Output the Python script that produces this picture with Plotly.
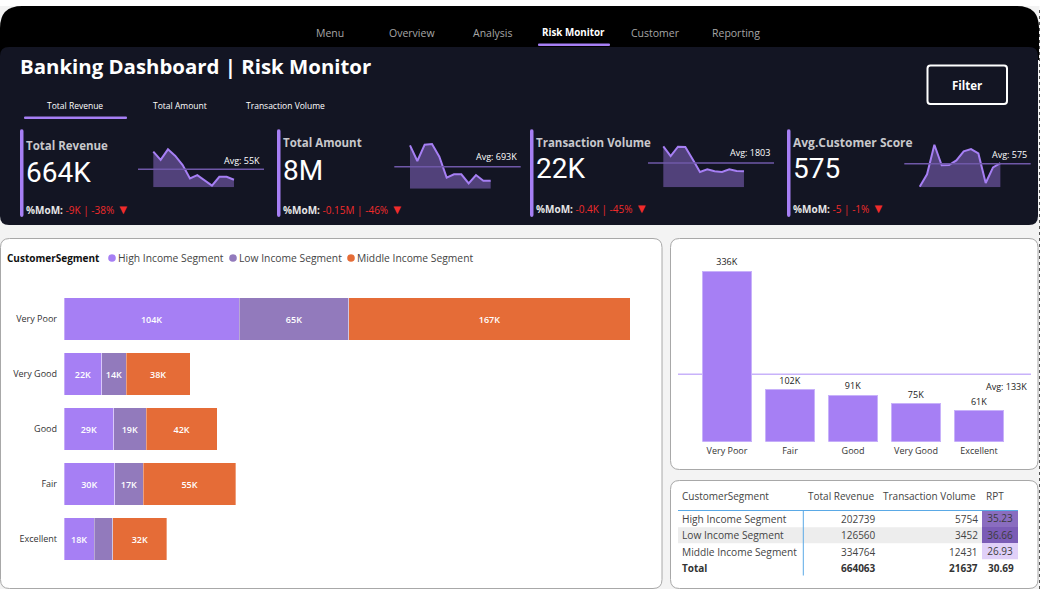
import plotly.graph_objects as go

W, H = 1041, 589
FONT = "Open Sans"
PURPLE = "#A67FF4"
LOW = "#927ABC"
ORANGE = "#E56C37"
DARK = "#131523"

# stacked bars
segments = ["Very Poor", "Very Good", "Good", "Fair", "Excellent"]
high_income = [104, 22.4, 29.4, 30, 18]
low_income = [65, 14.4, 19.3, 17, 11]
middle_income = [167, 38.2, 42.3, 55, 32]
low_labels = ["65K", "14K", "19K", "17K", ""]

# column chart
score_names = ["Very Poor", "Fair", "Good", "Very Good", "Excellent"]
score_values = [336, 102, 91, 75, 61]
score_avg = 133

# sparklines, 12 months each
spark_revenue = [109, 84, 116, 96, 68, 27, 37, 20, 5, 32, 32, 23]
spark_amount = [1365, 872, 1386, 1407, 1008, 347, 452, 452, 168, 431, 252, 252]
spark_volume = [3038, 2322, 3013, 2989, 2075, 1136, 1334, 1186, 1136, 1334, 1210, 1186]
spark_score = [16, 316, 1037, 535, 543, 656, 875, 932, 826, 105, 486, 591]

# table
table_header = ["CustomerSegment", "Total Revenue", "Transaction Volume", "RPT"]
table_names = ["High Income Segment", "Low Income Segment", "Middle Income Segment"]
table_revenue = [202739, 126560, 334764]
table_volume = [5754, 3452, 12431]
table_rpt = [35.23, 36.66, 26.93]
table_total = ["Total", 664063, 21637, 30.69]

nav_items = ["Menu", "Overview", "Analysis", "Risk Monitor", "Customer", "Reporting"]
nav_x = [330, 412, 492, 573, 655, 736]


def fx(x):
    return x / W


def fy(y):
    return 1 - y / H


def round_rect(x0, y0, x1, y1, r, fill, line=None, width=1, top_only=False):
    a, b, c, d = fx(x0), fy(y0), fx(x1), fy(y1)
    rx, ry = r / W, r / H
    if top_only:
        path = (f"M{a},{d} L{a},{b - ry} Q{a},{b} {a + rx},{b} L{c - rx},{b} "
                f"Q{c},{b} {c},{b - ry} L{c},{d} Z")
    else:
        path = (f"M{a},{d + ry} L{a},{b - ry} Q{a},{b} {a + rx},{b} L{c - rx},{b} "
                f"Q{c},{b} {c},{b - ry} L{c},{d + ry} Q{c},{d} {c - rx},{d} "
                f"L{a + rx},{d} Q{a},{d} {a},{d + ry} Z")
    fig.add_shape(type="path", path=path, xref="paper", yref="paper", layer="below",
                  fillcolor=fill, line=dict(color=line or fill, width=width if line else 0))


def rect(x0, y0, x1, y1, fill):
    fig.add_shape(type="rect", xref="paper", yref="paper", layer="below",
                  x0=fx(x0), x1=fx(x1), y0=fy(y0), y1=fy(y1),
                  fillcolor=fill, line_width=0)


def label(x, y, text, size=10, color="#444444", anchor="left", family=FONT):
    # annotations keep about 1px of padding around the text
    x = x - 1 if anchor == "left" else x + 1 if anchor == "right" else x
    fig.add_annotation(x=fx(x), y=fy(y), xref="paper", yref="paper", text=text,
                       showarrow=False, xanchor=anchor, yanchor="middle", borderpad=0,
                       font=dict(family=family, size=size, color=color))


fig = go.Figure()

# page
rect(0, 0, W, H, "#F3F3F3")
rect(0, 0, W, 6, "#FFFFFF")
rect(1039.5, 0, W, H, "#FFFFFF")
round_rect(0, 6, 1039, 60, 22, "#000000", top_only=True)
round_rect(0, 47, 1038, 225, 9, DARK)
round_rect(0.5, 238.5, 662, 588.5, 9, "#FFFFFF", "#A8A8A8")
round_rect(670.5, 238.5, 1038, 469.5, 9, "#FFFFFF", "#A8A8A8")
round_rect(670.5, 480.5, 1038, 588.5, 9, "#FFFFFF", "#A8A8A8")
fig.add_shape(type="line", xref="paper", yref="paper", x0=fx(1039.5), x1=fx(1039.5),
              y0=fy(10), y1=0, line=dict(color="#555555", width=1, dash="dot"))

# nav
for name, x in zip(nav_items, nav_x):
    if name == "Risk Monitor":
        label(x, 33, "<b>" + name + "</b>", 9.8, "#FFFFFF", "center")
    else:
        label(x, 33, name, 10.5, "#A6A6A6", "center")
round_rect(538, 43.5, 610, 46, 1, PURPLE)

# header
label(20, 66, "<b>Banking Dashboard | Risk Monitor</b>", 20.4, "#FFFFFF")
label(75, 105, "Total Revenue", 8.5, "#FFFFFF", "center")
label(180, 105, "Total Amount", 8.5, "#FFFFFF", "center")
label(285, 105, "Transaction Volume", 8.5, "#FFFFFF", "center")
round_rect(24, 116.5, 127, 119, 1, PURPLE)
round_rect(927.5, 65.5, 1007, 104, 3, DARK, "#FFFFFF", 2)
label(967, 85, "<b>Filter</b>", 11.5, "#FFFFFF", "center")

# kpi cards: title, value, change and sparkline placement
cards = [
    dict(bar=20, tx=26, ty=145, vy=172, my=209, tsize=11.5, title="Total Revenue", value="664K",
         mom="-9K | -38%", data=spark_revenue, avg=55, avg_text="Avg: 55K",
         first=153.3, x0=138, x1=264, base=187.3, avg_y=169.3, ax=260, ay=160),
    dict(bar=277, tx=283, ty=143, vy=171, my=209, tsize=11.5, title="Total Amount", value="8M",
         mom="-0.15M | -46%", data=spark_amount, avg=693, avg_text="Avg: 693K",
         first=410, x0=394.3, x1=520.7, base=188.7, avg_y=166.7, ax=517, ay=157),
    dict(bar=530, tx=536, ty=142, vy=169, my=208, tsize=11.5, title="Transaction Volume", value="22K",
         mom="-0.4K | -45%", data=spark_volume, avg=1803, avg_text="Avg: 1803",
         first=663.3, x0=648, x1=774, base=187.3, avg_y=163, ax=770, ay=152.5),
    dict(bar=787, tx=793, ty=142, vy=169, my=208, tsize=12, title="Avg.Customer Score", value="575",
         mom="-5 | -1%", data=spark_score, avg=575, avg_text="Avg: 575",
         first=919.7, x0=904.3, x1=1030.7, base=187.3, avg_y=163.7, ax=1027, ay=154),
]
axes = {}
for i, c in enumerate(cards):
    n = i + 3
    step = 22 / 3
    top = c["base"] - 52
    unit = c["avg"] / (c["base"] - c["avg_y"])
    axes[f"xaxis{n}"] = dict(domain=[fx(c["x0"]), fx(c["x1"])], visible=False, anchor=f"y{n}",
                             range=[(c["x0"] - c["first"]) / step, (c["x1"] - c["first"]) / step])
    axes[f"yaxis{n}"] = dict(domain=[fy(c["base"]), fy(top)], visible=False, anchor=f"x{n}",
                             range=[0, (c["base"] - top) * unit])
    fig.add_trace(go.Scatter(x=list(range(len(c["data"]))), y=c["data"], mode="lines",
                             xaxis=f"x{n}", yaxis=f"y{n}", fill="tozeroy",
                             fillcolor="rgba(166,127,244,0.42)", line=dict(color=PURPLE, width=2)))
    fig.add_shape(type="line", xref=f"x{n} domain", yref=f"y{n}", x0=0, x1=1,
                  y0=c["avg"], y1=c["avg"], line=dict(color="#6F58A8", width=1.5))
    round_rect(c["bar"], 129, c["bar"] + 3.5, 217, 2, PURPLE)
    label(c["tx"], c["ty"], "<b>" + c["title"] + "</b>", c["tsize"], "#C8C8CC")
    label(c["tx"], c["vy"], c["value"], 28, "#FFFFFF", family="Roboto")
    label(c["tx"], c["my"],
          f"<b>%MoM:</b> <span style='color:#F02B2B'>{c['mom']} <span style='font-size:13px'>▼</span></span>",
          10, "#E6E6E6")
    label(c["ax"], c["ay"], c["avg_text"], 9, "#FFFFFF", "right")

# stacked bars
bar_text = dict(textposition="inside", insidetextanchor="middle", constraintext="none",
                textfont=dict(family=FONT, size=9, weight=600, color="#FFFFFF"))
for name, values, text, color in [
    ("High Income Segment", high_income, [f"{v:.0f}K" for v in high_income], PURPLE),
    ("Low Income Segment", low_income, low_labels, LOW),
    ("Middle Income Segment", middle_income, [f"{v:.0f}K" for v in middle_income], ORANGE),
]:
    fig.add_trace(go.Bar(y=segments, x=values, name=name, orientation="h", text=text,
                         marker=dict(color=color, line=dict(color="rgba(255,255,255,0.35)", width=1)),
                         **bar_text))

label(7, 258, "<b>CustomerSegment</b>", 10, "#111111")
for name, color, dot_x in [("High Income Segment", PURPLE, 112), ("Low Income Segment", LOW, 233),
                           ("Middle Income Segment", ORANGE, 351)]:
    fig.add_shape(type="circle", xref="paper", yref="paper", layer="below",
                  x0=fx(dot_x - 3.8), x1=fx(dot_x + 3.8), y0=fy(258 + 3.8), y1=fy(258 - 3.8),
                  fillcolor=color, line_width=0)
    label(dot_x + 6, 258, name, 10.3, "#444444")

# column chart
fig.add_trace(go.Bar(x=score_names, y=score_values, xaxis="x2", yaxis="y2", width=0.778,
                     text=[f"{v}K" for v in score_values], textposition="outside", cliponaxis=False,
                     textfont=dict(family=FONT, size=9, color="#222222"),
                     marker=dict(color=PURPLE, line=dict(color="#C8B2FA", width=1))))
fig.add_shape(type="line", xref="x2 domain", yref="y2", x0=0, x1=1, y0=score_avg, y1=score_avg,
              layer="below", line=dict(color="#C8B2FA", width=1.5))
label(1027, 386.5, f"Avg: {score_avg}K", 9, "#222222", "right")

# table, RPT column comes from a one column heatmap
fig.add_trace(go.Heatmap(z=[[v] for v in table_rpt], y=table_names, x=["RPT"], xaxis="x7", yaxis="y7",
                         zmin=min(table_rpt), zmax=max(table_rpt), showscale=False,
                         colorscale=[[0, "#E0D0F8"], [1, "#7B5CB6"]],
                         text=[[f"{v:.2f}"] for v in table_rpt], texttemplate="%{text}",
                         textfont=dict(family=FONT, size=10, color="#3C3C3C")))
rect(678, 527.3, 982, 543.3, "#EDEDED")
fig.add_shape(type="line", xref="paper", yref="paper", x0=fx(678), x1=fx(1018), y0=fy(510.5), y1=fy(510.5),
              line=dict(color="#5AA9E6", width=1))
fig.add_shape(type="line", xref="paper", yref="paper", x0=fx(803.3), x1=fx(803.3), y0=fy(510.5), y1=fy(575.5),
              line=dict(color="#5AA9E6", width=1))

label(682, 496, table_header[0], 10, "#444444")
label(874, 496, table_header[1], 10, "#444444", "right")
label(976, 496, table_header[2], 10, "#444444", "right")
label(986, 496, table_header[3], 10, "#444444")
for row_y, name, rev, vol in zip([519.3, 535, 552.3], table_names, table_revenue, table_volume):
    label(682, row_y, name, 10.2, "#444444")
    label(876, row_y, str(rev), 10, "#444444", "right")
    label(978, row_y, str(vol), 10, "#444444", "right")
label(682, 568.3, f"<b>{table_total[0]}</b>", 10, "#333333")
label(876, 568.3, f"<b>{table_total[1]}</b>", 10, "#333333", "right")
label(978, 568.3, f"<b>{table_total[2]}</b>", 10, "#333333", "right")
label(1014, 568.3, f"<b>{table_total[3]}</b>", 10, "#333333", "right")

fig.update_layout(
    width=W, height=H, autosize=False, margin=dict(l=0, r=0, t=0, b=0),
    paper_bgcolor="#FFFFFF", plot_bgcolor="rgba(0,0,0,0)", showlegend=False,
    barmode="stack", bargap=0.236,
    font=dict(family=FONT, size=9.5, color="#333333"),
    xaxis=dict(domain=[fx(64), fx(650)], range=[0, 586 / 1.685], visible=False, anchor="y"),
    yaxis=dict(domain=[fy(566.5), fy(291.5)], range=[4.5, -0.5], showgrid=False, zeroline=False,
               ticks="", showline=False, anchor="x", ticklabelstandoff=6,
               tickfont=dict(family=FONT, size=9, color="#333333")),
    xaxis2=dict(domain=[fx(678), fx(1031)], range=[-0.778, 4.825], showgrid=False, zeroline=False,
                ticks="", showline=False, anchor="y2", ticklabelstandoff=2,
                tickfont=dict(family=FONT, size=9, color="#333333")),
    yaxis2=dict(domain=[fy(441.7), fy(245)], range=[0, 196.7 / 0.508], visible=False, anchor="x2"),
    xaxis7=dict(domain=[fx(982), fx(1018)], visible=False, anchor="y7"),
    yaxis7=dict(domain=[fy(559.5), fy(510.5)], visible=False, anchor="x7", autorange="reversed"),
    **axes,
)

fig.write_html("out.html", config=dict(displayModeBar=False),
               post_script="document.body.style.margin='0';")
